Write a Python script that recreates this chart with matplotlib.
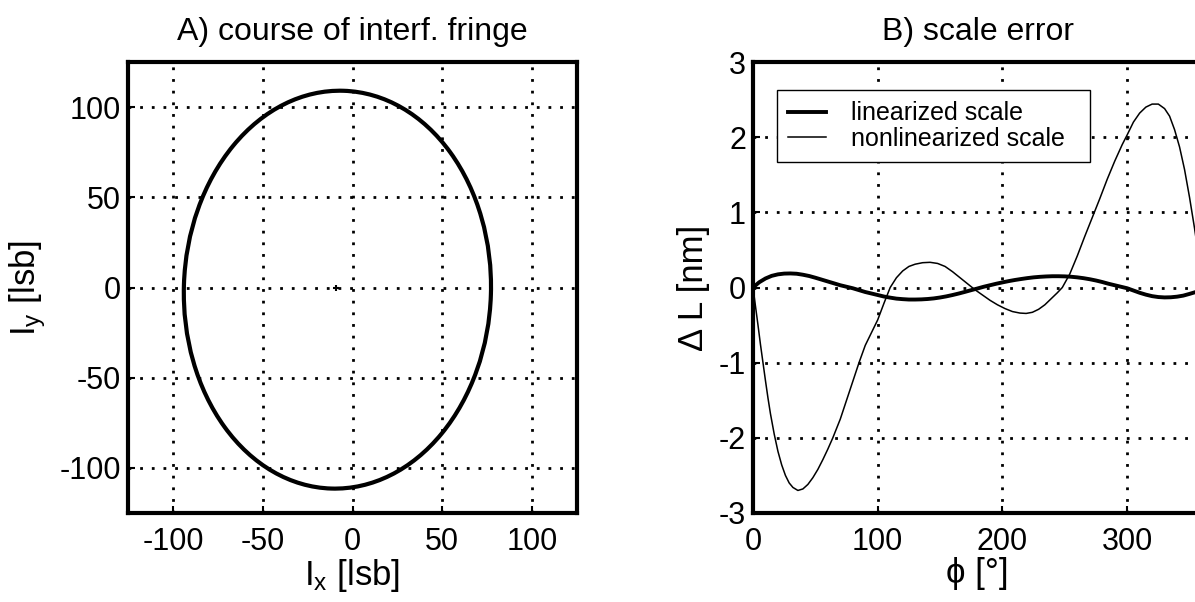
import matplotlib
matplotlib.use("Agg")
import matplotlib.pyplot as plt
from matplotlib.patches import Ellipse

plt.rcParams['font.family'] = ['Liberation Sans', 'DejaVu Sans']
plt.rcParams['mathtext.fontset'] = 'custom'
plt.rcParams['mathtext.rm'] = 'Liberation Sans'
plt.rcParams['mathtext.it'] = 'Liberation Sans'
plt.rcParams['axes.unicode_minus'] = False

# A) fringe ellipse (read off the picture)
ell_center = (-8.4, -1.2)
ell_width = 171.0
ell_height = 220.6
ell_angle = -1.8
center_mark = (-9.0, -0.5)
ticksA = [-100, -50, 0, 50, 100]

# B) scale error
phi_nonlin = [0, 2, 4, 6, 8, 10, 12, 14, 17, 20, 23, 26, 29, 32, 36, 40, 44, 48,
              52, 56, 60, 64, 70, 75, 80, 85, 90, 95, 100, 105, 110, 115, 120,
              125, 130, 136, 142, 148, 154, 160, 166, 172, 178, 184, 190, 196,
              202, 208, 214, 219, 224, 229, 234, 239, 244, 248, 254, 260, 266,
              272, 278, 284, 290, 296, 300, 305, 310, 315, 320, 325, 330, 334,
              338, 342, 346, 350, 354, 357, 360]
err_nonlin = [0, -0.25, -0.5, -0.76, -1.0, -1.24, -1.47, -1.68, -1.95, -2.18,
              -2.36, -2.5, -2.6, -2.66, -2.70, -2.68, -2.62, -2.53, -2.42, -2.29,
              -2.15, -2.0, -1.75, -1.5, -1.25, -1.0, -0.77, -0.6, -0.43, -0.21,
              0.0, 0.13, 0.22, 0.28, 0.31, 0.33, 0.335, 0.32, 0.28, 0.21, 0.13,
              0.05, -0.03, -0.1, -0.17, -0.23, -0.28, -0.32, -0.34, -0.345,
              -0.33, -0.29, -0.23, -0.15, -0.07, 0.0, 0.18, 0.42, 0.68, 0.93,
              1.18, 1.44, 1.68, 1.9, 2.03, 2.2, 2.32, 2.4, 2.44, 2.44, 2.38,
              2.28, 2.1, 1.87, 1.57, 1.2, 0.79, 0.45, 0.1]
phi_lin = [0, 5, 10, 15, 20, 25, 30, 35, 40, 45, 50, 55, 60, 65, 70, 75, 80, 85,
           90, 95, 100, 105, 110, 115, 120, 125, 130, 135, 140, 145, 150, 155,
           160, 165, 170, 175, 180, 185, 190, 195, 200, 205, 210, 215, 220, 225,
           230, 235, 240, 245, 250, 255, 260, 265, 270, 275, 280, 285, 290, 295,
           300, 305, 310, 315, 320, 325, 330, 335, 340, 345, 350, 355, 360]
err_lin = [0, 0.07, 0.12, 0.155, 0.175, 0.185, 0.187, 0.183, 0.17, 0.153, 0.13,
           0.105, 0.08, 0.055, 0.03, 0.01, -0.01, -0.035, -0.06, -0.08, -0.1,
           -0.12, -0.135, -0.148, -0.155, -0.16, -0.16, -0.158, -0.153, -0.145,
           -0.133, -0.118, -0.1, -0.08, -0.058, -0.035, -0.013, 0.01, 0.03, 0.05,
           0.068, 0.085, 0.1, 0.113, 0.125, 0.135, 0.142, 0.147, 0.15, 0.15,
           0.148, 0.143, 0.135, 0.124, 0.11, 0.093, 0.073, 0.05, 0.03, 0.01,
           -0.01, -0.04, -0.07, -0.095, -0.115, -0.127, -0.132, -0.13, -0.122,
           -0.108, -0.085, -0.06, -0.03]
ticksB_x = [0, 100, 200, 300]
ticksB_y = [-3, -2, -1, 0, 1, 2, 3]

W, H = 1195, 602
fig = plt.figure(figsize=(W / 100, H / 100), dpi=100)
axA = fig.add_axes([128 / W, (H - 513) / H, 449 / W, 451 / H])
axB = fig.add_axes([753 / W, (H - 513) / H, 449 / W, 451 / H])

dots = (0, (1, 3.2))


def style(ax):
    for s in ax.spines.values():
        s.set_linewidth(3)
    ax.tick_params(direction='in', length=5, width=1.5, labelsize=22)
    ax.tick_params(axis='x', pad=10)
    ax.tick_params(axis='y', pad=5)
    ax.grid(True, color='black', linestyle=dots, linewidth=2.0)
    ax.set_axisbelow(False)


# panel A
axA.add_patch(Ellipse(ell_center, ell_width, ell_height, angle=ell_angle,
                      fill=False, edgecolor='black', linewidth=3, zorder=3))
axA.plot([center_mark[0]], [center_mark[1]], marker='+', color='black',
         markersize=5, markeredgewidth=1.5)
axA.set_xlim(-125, 125)
axA.set_ylim(-125, 125)
axA.set_xticks(ticksA)
axA.set_yticks(ticksA)
style(axA)
axA.set_title('A) course of interf. fringe', fontsize=23, pad=16)
axA.set_xlabel(r'I$_\mathrm{x}$ [lsb]', fontsize=25, labelpad=0)
axA.set_ylabel(r'I$_\mathrm{y}$ [lsb]', fontsize=25, labelpad=8)

# panel B
axB.plot(phi_lin, err_lin, color='black', linewidth=2.8, label='linearized scale')
axB.plot(phi_nonlin, err_nonlin, color='black', linewidth=1.1,
         label='nonlinearized scale  ')
axB.set_xlim(0, 360)
axB.set_ylim(-3, 3)
axB.set_xticks(ticksB_x)
axB.set_yticks(ticksB_y)
style(axB)
axB.set_title('B) scale error', fontsize=23, pad=16)
axB.set_xlabel('ϕ [°]', fontsize=25, labelpad=0)
axB.set_ylabel('Δ L [nm]', fontsize=25, labelpad=6)
leg = axB.legend(loc='upper left', bbox_to_anchor=(24 / 449, (513 - 90) / 451),
                 borderaxespad=0, fontsize=18, frameon=True, fancybox=False,
                 framealpha=1, edgecolor='black', handlelength=1.5,
                 borderpad=0.45, labelspacing=0.05, handletextpad=1.0)
leg.get_frame().set_linewidth(1.0)

fig.savefig('out.png', dpi=100)
